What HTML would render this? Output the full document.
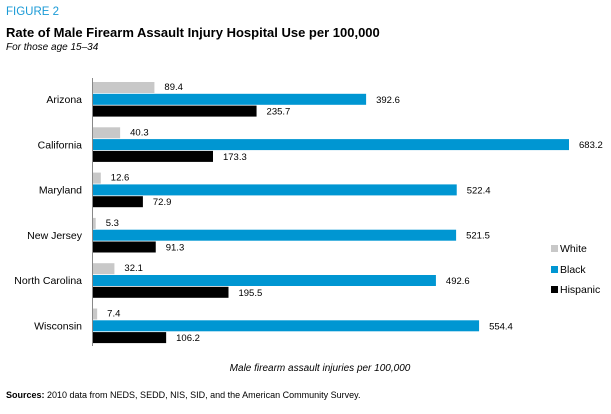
<!DOCTYPE html>
<html><head><meta charset="utf-8"><style>
body{margin:0;width:611px;height:409px;background:#fff;overflow:hidden;font-family:"Liberation Sans",sans-serif;}
</style></head><body>
<svg width="611" height="409" xmlns="http://www.w3.org/2000/svg">
<text x="6" y="15" font-size="11.5" fill="#1a9ad6">FIGURE 2</text>
<text x="6" y="37" font-size="13" font-weight="bold" fill="#000">Rate of Male Firearm Assault Injury Hospital Use per 100,000</text>
<text x="6" y="50" font-size="10" font-style="italic" fill="#000">For those age 15–34</text>
<g id="bars"></g>
<line x1="92.5" y1="78" x2="92.5" y2="346" stroke="#888" stroke-width="1"/>
<g>
<rect x="551" y="245" width="7" height="7" fill="#c8c8c8"/>
<text x="560" y="252" font-size="10.5">White</text>
<rect x="551" y="266" width="7" height="7" fill="#0096d2"/>
<text x="560" y="273" font-size="10.5">Black</text>
<rect x="551" y="286" width="7" height="7" fill="#000"/>
<text x="560" y="293" font-size="10.5">Hispanic</text>
</g>
<text x="320" y="371" font-size="10" font-style="italic" text-anchor="middle">Male firearm assault injuries per 100,000</text>
<text x="6" y="398" font-size="9"><tspan font-weight="bold">Sources:</tspan> 2010 data from NEDS, SEDD, NIS, SID, and the American Community Survey.</text>
</svg>
<script>
const categories = ["Arizona","California","Maryland","New Jersey","North Carolina","Wisconsin"];
const white = [89.4,40.3,12.6,5.3,32.1,7.4];
const black = [392.6,683.2,522.4,521.5,492.6,554.4];
const hispanic = [235.7,173.3,72.9,91.3,195.5,106.2];
const seriesNames = ["white","black","hispanic"];
const NS="http://www.w3.org/2000/svg";
const g=document.getElementById('bars');
const x0=92, k=477/683.2;
const xs=v=>x0+v*k;
const groupY=i=>82+i*45.3;
const colors=["#c8c8c8","#0096d2","#000"];
const series=[white,black,hispanic];
categories.forEach((c,i)=>{
  const t=document.createElementNS(NS,'text');
  t.setAttribute('x',82);t.setAttribute('y',groupY(i)+21);
  t.setAttribute('text-anchor','end');t.setAttribute('font-size','10.5');
  t.textContent=c;
  
  
  g.appendChild(t);
  series.forEach((s,j)=>{
    const y=groupY(i)+j*11.8;
    const r=document.createElementNS(NS,'rect');
    r.setAttribute('x',x0);r.setAttribute('y',y);
    r.setAttribute('width',xs(s[i])-x0);r.setAttribute('height',11);
    r.setAttribute('fill',colors[j]);
    
    
    g.appendChild(r);
    const l=document.createElementNS(NS,'text');
    l.setAttribute('x',xs(s[i])+10);l.setAttribute('y',y+(j==0?8:9));
    l.setAttribute('font-size','9.5');
    l.textContent=s[i].toFixed(1);
    
    
    g.appendChild(l);
  });
});
</script>
</body></html>
